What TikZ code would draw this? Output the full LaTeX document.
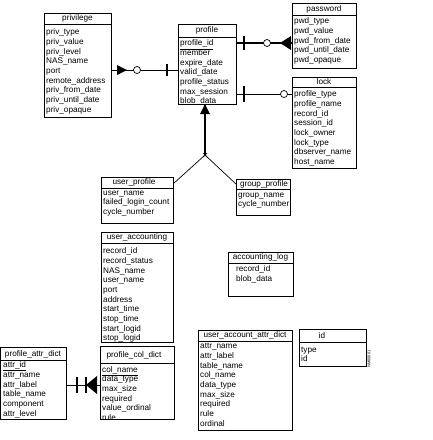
\documentclass[tikz,border=0pt]{standalone}
\usepackage{fontspec}
\setmainfont{Liberation Sans}
\usepackage{tikz}
\usetikzlibrary{shapes,arrows,positioning}

\newcommand{\erfont}{\fontsize{8.2}{9.7}\selectfont}

\begin{document}
\begin{tikzpicture}[x=1pt, y=-1pt,
    tbl/.style={draw, line width=0.7pt, anchor=north west, inner sep=0pt, outer sep=0pt},
    ttl/.style={font=\erfont, inner sep=0pt},
    fld/.style={font=\erfont, align=left, anchor=north west, inner sep=0pt},
    hdr/.style={line width=0.7pt},
    rel/.style={line width=0.7pt},
    relthick/.style={line width=1.6pt},
    bar/.style={line width=1.4pt}]
    \useasboundingbox (0,0) rectangle (432,440);

    % privilege
    \node[tbl, minimum width=67pt, minimum height=104pt] (privilege) at (44,13) {};
    \draw[hdr] (privilege.north west) ++(0,11) -- ++(67,0);
    \node[ttl] at (77.5,18.5) {privilege};
    \node[fld] at (46,28.5) {priv\_type\\priv\_value\\priv\_level\\NAS\_name\\port\\remote\_address\\priv\_from\_date\\priv\_until\_date\\priv\_opaque};

    % profile
    \node[tbl, minimum width=58pt, minimum height=80pt] (profile) at (178,24) {};
    \draw[hdr] (profile.north west) ++(0,13) -- ++(58,0);
    \node[ttl] at (207,30.5) {profile};
    \node[fld] at (180,39.5) {\underline{profile\_id}\\member\\expire\_date\\valid\_date\\profile\_status\\max\_session\\blob\_data};

    % password
    \node[tbl, minimum width=64pt, minimum height=65pt] (password) at (292,3) {};
    \draw[hdr] (password.north west) ++(0,12) -- ++(64,0);
    \node[ttl] at (324,9) {password};
    \node[fld] at (294,17.5) {pwd\_type\\pwd\_value\\pwd\_from\_date\\pwd\_until\_date\\pwd\_opaque};

    % lock
    \node[tbl, minimum width=64pt, minimum height=91pt] (lock) at (292,77) {};
    \draw[hdr] (lock.north west) ++(0,10) -- ++(64,0);
    \node[ttl] at (324,82) {lock};
    \node[fld] at (294,90.5) {profile\_type\\profile\_name\\record\_id\\session\_id\\lock\_owner\\lock\_type\\dbserver\_name\\host\_name};

    % user_profile
    \node[tbl, minimum width=72pt, minimum height=46pt] (userprofile) at (101,177) {};
    \draw[hdr] (userprofile.north west) ++(0,11) -- ++(72,0);
    \node[ttl] at (134,182.5) {user\_profile};
    \node[fld] at (103,190.5) {user\_name\\failed\_login\_count\\cycle\_number};

    % group_profile
    \node[tbl, minimum width=54pt, minimum height=36pt] (groupprofile) at (236,179) {};
    \draw[hdr] (groupprofile.north west) ++(0,10) -- ++(54,0);
    \node[ttl] at (264,184) {group\_profile};
    \node[fld] at (238,192.5) {group\_name\\cycle\_number};

    % user_accounting
    \node[tbl, minimum width=72pt, minimum height=110pt] (useraccounting) at (101,232) {};
    \draw[hdr] (useraccounting.north west) ++(0,11) -- ++(72,0);
    \node[ttl] at (137,237.5) {user\_accounting};
    \node[fld] at (103,247.5) {record\_id\\record\_status\\NAS\_name\\user\_name\\port\\address\\start\_time\\stop\_time\\start\_logid\\stop\_logid};

    % accounting_log
    \node[tbl, minimum width=65pt, minimum height=44pt] (accountinglog) at (228,252) {};
    \draw[hdr] (accountinglog.north west) ++(0,11) -- ++(65,0);
    \node[ttl] at (260.5,257.5) {accounting\_log};
    \node[fld] at (236,265.5) {record\_id\\blob\_data};

    % user_account_attr_dict
    \node[tbl, minimum width=94pt, minimum height=100pt] (uaattrdict) at (198,330) {};
    \draw[hdr] (uaattrdict.north west) ++(0,11) -- ++(94,0);
    \node[ttl] at (245,335.5) {user\_account\_attr\_dict};
    \node[fld] at (200,343.2) {attr\_name\\attr\_label\\table\_name\\col\_name\\data\_type\\max\_size\\required\\rule\\ordinal};

    % id
    \node[tbl, minimum width=67pt, minimum height=37pt] (idtbl) at (299,329) {};
    \draw[hdr] (idtbl.north west) ++(0,13) -- ++(67,0);
    \node[ttl] at (322,335.5) {id};
    \node[fld] at (301,346.5) {type\\id};
    \node[font=\fontsize{4}{4}\selectfont, rotate=90, inner sep=0pt] (idtag) at (369,359) {NM00001};

    % profile_attr_dict
    \node[tbl, minimum width=65.5pt, minimum height=72pt] (profattrdict) at (0.5,347) {};
    \draw[hdr] (profattrdict.north west) ++(0,13) -- ++(65.5,0);
    \node[ttl] at (33,354) {profile\_attr\_dict};
    \node[fld] at (3,361.5) {\underline{attr\_id}\\attr\_name\\attr\_label\\table\_name\\component\\attr\_level};

    % profile_col_dict
    \node[tbl, minimum width=74pt, minimum height=73pt] (profcoldict) at (100,346) {};
    \draw[hdr] (profcoldict.north west) ++(0,17) -- ++(74,0);
    \node[ttl] at (134,355.5) {profile\_col\_dict};
    \node[fld] at (102,366) {\underline{col\_name}\\data\_type\\max\_size\\required\\value\_ordinal\\rule};

    % privilege -- profile
    \coordinate (pp) at ([yshift=-5pt]privilege.east);
    \draw[rel] (pp) -- (pp -| profile.west);
    \fill (pp) ++(6,-5) -- ++(0,10) -- ++(10,-5) -- cycle;
    \draw[rel, fill=white] (pp) ++(26,0) circle (3.5pt);
    \draw[bar] (pp -| profile.west) ++(-11,-6) -- ++(0,12);

    % profile -- password
    \coordinate (pw) at ([yshift=21pt]profile.east);
    \draw[relthick] (pw) -- (pw -| password.west);
    \draw[bar] (pw) ++(8,-7) -- ++(0,14);
    \draw[rel, fill=white] (pw) ++(31,0) circle (3.5pt);
    \fill (pw -| password.west) ++(-1,-7) -- ++(0,14) -- ++(-11,-7) -- cycle;

    % profile -- lock
    \coordinate (pl) at ([yshift=-30pt]profile.east);
    \draw[rel] (pl) -- (pl -| lock.west);
    \draw[bar] (pl) ++(8,-8) -- ++(0,16);
    \draw[rel, fill=white] (pl -| lock.west) ++(-8,0) circle (3.5pt);

    % profile -- user_profile / group_profile
    \coordinate (pu) at ([xshift=-2pt]profile.south);
    \coordinate (jn) at ([yshift=-51pt]pu);
    \draw[relthick] (pu) -- (jn);
    \fill (pu) -- ++(-5,10) -- ++(10,0) -- cycle;
    \draw[rel] ([yshift=16pt]userprofile.east) -- (jn) -- ([yshift=13pt]groupprofile.west);
    \draw[rel] (jn) ++(-2,-2) -- ++(4,4) ++(0,-4) -- ++(-4,4);

    % profile_attr_dict -- profile_col_dict
    \coordinate (pc) at ([yshift=-2pt]profattrdict.east);
    \draw[rel] (pc) -- (pc -| profcoldict.west);
    \draw[bar] (pc) ++(11,-8) -- ++(0,16);
    \draw[bar] (pc) ++(20,-8) -- ++(0,16);
    \fill (pc -| profcoldict.west) ++(-3,-9) -- ++(0,18) -- ++(-11,-9) -- cycle;
\end{tikzpicture}
\end{document}
